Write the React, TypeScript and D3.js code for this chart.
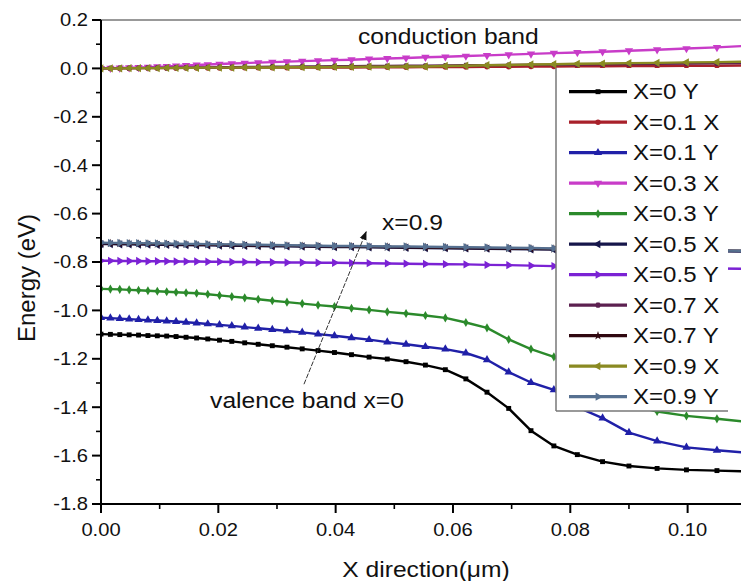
import React from 'react';
import * as d3 from 'd3';

const width = 741;
const height = 581;
const plot = { left: 101, right: 741, top: 20, bottom: 504 };
const xMax = 0.1091;
const SX = 1.12; // text in the picture is a bit wide

// shared mesh along the x direction (um)
const xs = [
  0, 0.0016, 0.0032, 0.0048, 0.0064, 0.008, 0.0096, 0.0112, 0.0128, 0.0145,
  0.0163, 0.0182, 0.0202, 0.0223, 0.0245, 0.0268, 0.0292, 0.0317, 0.0343, 0.037,
  0.0398, 0.0427, 0.0457, 0.0488, 0.052, 0.0553, 0.0587, 0.0622, 0.0658, 0.0695,
  0.0733, 0.0772, 0.0812, 0.0855, 0.09, 0.0948, 0.0998, 0.105, 0.11,
];

const x0Y = [
  -1.098, -1.099, -1.1, -1.101, -1.102, -1.104, -1.105, -1.106, -1.108, -1.111,
  -1.114, -1.118, -1.123, -1.128, -1.134, -1.14, -1.146, -1.152, -1.159, -1.166,
  -1.174, -1.183, -1.193, -1.201, -1.212, -1.226, -1.245, -1.283, -1.338, -1.405,
  -1.497, -1.56, -1.596, -1.625, -1.643, -1.653, -1.659, -1.662, -1.665,
];
const x01X = [
  0, 0, 0, 0, 0.001, 0.001, 0.001, 0.001, 0.001, 0.002,
  0.002, 0.002, 0.002, 0.002, 0.003, 0.003, 0.003, 0.003, 0.004, 0.004,
  0.004, 0.004, 0.005, 0.005, 0.005, 0.006, 0.006, 0.006, 0.007, 0.007,
  0.008, 0.008, 0.009, 0.009, 0.01, 0.01, 0.011, 0.011, 0.012,
];
const x01Y = [
  -1.03, -1.032, -1.034, -1.036, -1.038, -1.04, -1.042, -1.044, -1.046, -1.049,
  -1.052, -1.056, -1.06, -1.064, -1.069, -1.074, -1.079, -1.085, -1.091, -1.098,
  -1.105, -1.113, -1.121, -1.131, -1.14, -1.15, -1.16, -1.176, -1.204, -1.255,
  -1.298, -1.328, -1.4, -1.445, -1.505, -1.54, -1.566, -1.578, -1.588,
];
const x03X = [
  0, 0.001, 0.002, 0.003, 0.004, 0.005, 0.007, 0.008, 0.01, 0.012,
  0.014, 0.016, 0.018, 0.02, 0.022, 0.024, 0.026, 0.028, 0.03, 0.032,
  0.034, 0.036, 0.039, 0.041, 0.043, 0.046, 0.048, 0.051, 0.054, 0.057,
  0.06, 0.063, 0.066, 0.069, 0.073, 0.077, 0.082, 0.087, 0.093,
];
const x03Y = [
  -0.911, -0.912, -0.913, -0.915, -0.917, -0.919, -0.921, -0.923, -0.925, -0.927,
  -0.929, -0.933, -0.938, -0.943, -0.948, -0.954, -0.96, -0.966, -0.972, -0.978,
  -0.984, -0.991, -0.998, -1.006, -1.013, -1.021, -1.031, -1.05, -1.072, -1.12,
  -1.16, -1.192, -1.26, -1.335, -1.39, -1.418, -1.436, -1.448, -1.46,
];
const x05X = [
  -0.726, -0.726, -0.727, -0.727, -0.728, -0.728, -0.729, -0.729, -0.73, -0.73,
  -0.731, -0.731, -0.732, -0.733, -0.733, -0.734, -0.735, -0.735, -0.736, -0.737,
  -0.738, -0.738, -0.739, -0.74, -0.741, -0.742, -0.743, -0.744, -0.745, -0.746,
  -0.748, -0.749, -0.75, -0.751, -0.752, -0.753, -0.754, -0.756, -0.757,
];
const x05Y = [
  -0.795, -0.795, -0.796, -0.796, -0.796, -0.797, -0.797, -0.797, -0.798, -0.798,
  -0.798, -0.799, -0.799, -0.8, -0.8, -0.801, -0.801, -0.802, -0.802, -0.803,
  -0.803, -0.804, -0.805, -0.806, -0.807, -0.808, -0.809, -0.81, -0.812, -0.813,
  -0.815, -0.817, -0.819, -0.821, -0.823, -0.824, -0.826, -0.827, -0.828,
];
const x07X = [
  0, 0, 0.001, 0.001, 0.001, 0.002, 0.002, 0.002, 0.003, 0.003,
  0.004, 0.004, 0.005, 0.005, 0.006, 0.006, 0.007, 0.007, 0.008, 0.008,
  0.009, 0.009, 0.01, 0.01, 0.011, 0.011, 0.012, 0.013, 0.013, 0.014,
  0.015, 0.015, 0.016, 0.017, 0.018, 0.019, 0.02, 0.021, 0.022,
];
const x07Y = [
  -0.723, -0.723, -0.724, -0.724, -0.725, -0.725, -0.726, -0.726, -0.727, -0.727,
  -0.728, -0.729, -0.729, -0.73, -0.731, -0.732, -0.732, -0.733, -0.734, -0.735,
  -0.736, -0.736, -0.737, -0.738, -0.739, -0.74, -0.741, -0.742, -0.743, -0.744,
  -0.745, -0.746, -0.747, -0.748, -0.749, -0.75, -0.751, -0.752, -0.753,
];
const x09X = [
  0, 0, 0, 0.001, 0.001, 0.001, 0.001, 0.002, 0.002, 0.002,
  0.002, 0.003, 0.003, 0.003, 0.004, 0.004, 0.004, 0.005, 0.005, 0.005,
  0.006, 0.006, 0.007, 0.007, 0.008, 0.008, 0.01, 0.011, 0.013, 0.014,
  0.016, 0.017, 0.019, 0.02, 0.022, 0.023, 0.025, 0.026, 0.028,
];
const x09Y = [
  -0.72, -0.721, -0.721, -0.722, -0.722, -0.723, -0.723, -0.724, -0.724, -0.725,
  -0.725, -0.726, -0.727, -0.727, -0.728, -0.729, -0.73, -0.731, -0.732, -0.733,
  -0.734, -0.734, -0.735, -0.736, -0.736, -0.737, -0.738, -0.739, -0.74, -0.741,
  -0.742, -0.744, -0.745, -0.747, -0.748, -0.75, -0.751, -0.753, -0.754,
];

const seriesNames = [
  'X=0 Y', 'X=0.1 X', 'X=0.1 Y', 'X=0.3 X', 'X=0.3 Y', 'X=0.5 X',
  'X=0.5 Y', 'X=0.7 X', 'X=0.7 Y', 'X=0.9 X', 'X=0.9 Y',
];
const seriesValues = [x0Y, x01X, x01Y, x03X, x03Y, x05X, x05Y, x07X, x07Y, x09X, x09Y];
const seriesColors = [
  '#000000', '#a8202a', '#2020a8', '#c83cc8', '#2b8a2b', '#16164a',
  '#7b22d4', '#5c2050', '#300810', '#8a8a22', '#567090',
];
const seriesShapes = [
  'square', 'circle', 'up', 'down', 'diamond', 'left',
  'right', 'hexagon', 'star', 'left', 'right',
];

const yTicks = [0.2, 0, -0.2, -0.4, -0.6, -0.8, -1.0, -1.2, -1.4, -1.6, -1.8];
const yTickLabels = ['0.2', '0.0', '-0.2', '-0.4', '-0.6', '-0.8', '-1.0', '-1.2', '-1.4', '-1.6', '-1.8'];
const yMinor = [0.1, -0.1, -0.3, -0.5, -0.7, -0.9, -1.1, -1.3, -1.5, -1.7];
const xTicks = [0, 0.02, 0.04, 0.06, 0.08, 0.1];
const xTickLabels = ['0.00', '0.02', '0.04', '0.06', '0.08', '0.10'];
const xMinor = [0.01, 0.03, 0.05, 0.07, 0.09, 0.11];

const xScale = d3.scaleLinear().domain([0, xMax]).range([plot.left, plot.right]);
const yScale = d3.scaleLinear().domain([-1.8, 0.2]).range([plot.bottom, plot.top]);

const markerPath = (shape: string): { d: string; rot: number } => {
  const s = 24;
  if (shape === 'square') return { d: d3.symbol(d3.symbolSquare, s)()!, rot: 0 };
  if (shape === 'circle') return { d: d3.symbol(d3.symbolCircle, s)()!, rot: 0 };
  if (shape === 'diamond') return { d: d3.symbol(d3.symbolDiamond, s)()!, rot: 0 };
  if (shape === 'star') return { d: d3.symbol(d3.symbolStar, s)()!, rot: 0 };
  if (shape === 'hexagon') {
    const r = 3;
    const pts = d3.range(6).map(i => [r * Math.cos((i * Math.PI) / 3), r * Math.sin((i * Math.PI) / 3)]);
    return { d: 'M' + pts.map(p => p.join(',')).join('L') + 'Z', rot: 0 };
  }
  const tri = d3.symbol(d3.symbolTriangle, 30)()!;
  const rot = shape === 'down' ? 180 : shape === 'left' ? -90 : shape === 'right' ? 90 : 0;
  return { d: tri, rot };
};

const Txt = ({ x, y, size, anchor = 'start', children }: any) => (
  <text transform={`translate(${x},${y}) scale(${SX},1)`} fontSize={size} textAnchor={anchor} fill="#111">
    {children}
  </text>
);

const lineGen = d3
  .line<number>()
  .x((_, i) => xScale(xs[i]))
  .y(d => yScale(d));

const Series = ({ values, color, shape }: any) => {
  const m = markerPath(shape);
  return (
    <g>
      <path d={lineGen(values)!} fill="none" stroke={color} strokeWidth={2.4} strokeLinejoin="round" />
      {values.map((v: number, i: number) => (
        <path
          key={i}
          d={m.d}
          fill={color}
          transform={`translate(${xScale(xs[i])},${yScale(v)}) rotate(${m.rot})`}
        />
      ))}
    </g>
  );
};

const Legend = () => {
  const box = { x: 556, y: 68, w: 172, h: 343 };
  const row0 = 91.7;
  const rowH = 30.5;
  return (
    <g>
      <rect x={box.x} y={box.y} width={box.w} height={box.h} fill="#fff" />
      <line x1={box.x} y1={box.y} x2={box.x} y2={box.y + box.h} stroke="#777" strokeWidth={1.5} />
      <line x1={box.x} y1={box.y + box.h} x2={box.x + box.w} y2={box.y + box.h} stroke="#777" strokeWidth={1.5} />
      {seriesNames.map((name, i) => {
        const cy = row0 + i * rowH;
        const m = markerPath(seriesShapes[i]);
        return (
          <g key={name}>
            <line x1={569} x2={627} y1={cy} y2={cy} stroke={seriesColors[i]} strokeWidth={3.2} />
            <path d={m.d} fill={seriesColors[i]} transform={`translate(598,${cy}) rotate(${m.rot})`} />
            <Txt x={633} y={cy + 7.6} size={21.5}>{name}</Txt>
          </g>
        );
      })}
    </g>
  );
};

export default function App() {
  const arrowFrom = [0.0346, -1.305];
  const arrowTo = [0.0452, -0.675];
  return (
    <svg
      width={width}
      height={height}
      style={{ position: 'absolute', left: 0, top: 0, background: '#fff' }}
      fontFamily="'Liberation Sans', Arial, sans-serif"
    >
      <defs>
        <clipPath id="plotClip">
          <rect x={plot.left} y={plot.top} width={plot.right - plot.left} height={plot.bottom - plot.top} />
        </clipPath>
        <marker id="arrow" viewBox="0 0 10 10" refX={9} refY={5} markerWidth={9} markerHeight={9} orient="auto" markerUnits="userSpaceOnUse">
          <path d="M0,1 L10,5 L0,9 Z" fill="#111" />
        </marker>
      </defs>

      <g clipPath="url(#plotClip)">
        {seriesValues.map((vals, i) => (
          <Series key={seriesNames[i]} values={vals} color={seriesColors[i]} shape={seriesShapes[i]} />
        ))}
      </g>

      <Legend />

      {/* frame */}
      <line x1={plot.left} x2={plot.right} y1={plot.top} y2={plot.top} stroke="#777" strokeWidth={1.5} />
      <line x1={plot.left} x2={plot.left} y1={plot.top} y2={plot.bottom + 1} stroke="#000" strokeWidth={2} />
      <line x1={plot.left - 1} x2={plot.right} y1={plot.bottom} y2={plot.bottom} stroke="#000" strokeWidth={2} />

      {/* y axis */}
      {yTicks.map((t, i) => (
        <g key={t}>
          <line x1={plot.left - 9} x2={plot.left} y1={yScale(t)} y2={yScale(t)} stroke="#000" strokeWidth={2} />
          <Txt x={88} y={yScale(t) + 6.4} size={18} anchor="end">{yTickLabels[i]}</Txt>
        </g>
      ))}
      {yMinor.map(t => (
        <line key={t} x1={plot.left - 5} x2={plot.left} y1={yScale(t)} y2={yScale(t)} stroke="#000" strokeWidth={1.6} />
      ))}

      {/* x axis */}
      {xTicks.map((t, i) => (
        <g key={t}>
          <line x1={xScale(t)} x2={xScale(t)} y1={plot.bottom} y2={plot.bottom + 9} stroke="#000" strokeWidth={2} />
          <Txt x={xScale(t)} y={536} size={18} anchor="middle">{xTickLabels[i]}</Txt>
        </g>
      ))}
      {xMinor.filter(t => t < xMax).map(t => (
        <line key={t} x1={xScale(t)} x2={xScale(t)} y1={plot.bottom} y2={plot.bottom + 5} stroke="#000" strokeWidth={1.6} />
      ))}

      <Txt x={426} y={577} size={22} anchor="middle">X direction(μm)</Txt>
      <text
        transform={`translate(34.5,278) rotate(-90)`}
        fontSize={24}
        textAnchor="middle"
        fill="#111"
      >
        Energy (eV)
      </text>

      {/* annotations */}
      <Txt x={xScale(0.0438)} y={yScale(0.099)} size={22}>conduction band</Txt>
      <Txt x={xScale(0.0479)} y={yScale(-0.666)} size={22}>x=0.9</Txt>
      <Txt x={xScale(0.0186)} y={yScale(-1.403)} size={22}>valence band x=0</Txt>
      <line
        x1={xScale(arrowFrom[0])}
        y1={yScale(arrowFrom[1])}
        x2={xScale(arrowTo[0])}
        y2={yScale(arrowTo[1])}
        stroke="#333"
        strokeWidth={1}
        strokeDasharray="5,1.5"
        markerEnd="url(#arrow)"
      />
    </svg>
  );
}
